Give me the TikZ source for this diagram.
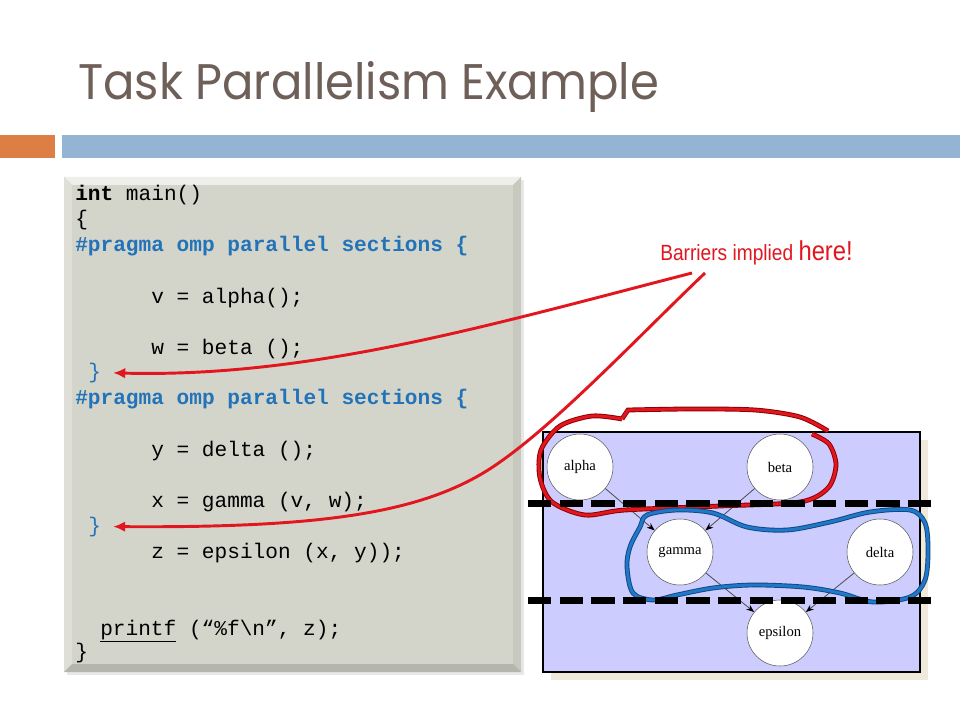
\documentclass[tikz,border=0pt]{standalone}
\usepackage{fontspec}
\usepackage{tikz}
\usetikzlibrary{arrows.meta}
\newfontfamily\codefont{Liberation Mono}
\newfontfamily\titlefont{Poppins}
\newfontfamily\notefont{Liberation Sans}
\newfontfamily\graphfont{Liberation Serif}
\definecolor{TitleBrown}{HTML}{6F5F59}
\definecolor{BarOrange}{HTML}{DD7E44}
\definecolor{BarBlue}{HTML}{93B5D3}
\definecolor{CodeFill}{HTML}{D4D5CA}
\definecolor{CodeBlue}{HTML}{2373B9}
\definecolor{PanelFill}{HTML}{CCCCFF}
\definecolor{PanelShadow}{HTML}{EFE9DC}
\definecolor{NoteRed}{HTML}{E2161F}
\definecolor{LoopBlue}{HTML}{1F78CC}

\tikzset{
  code/.style={anchor=base west,inner sep=0pt,font=\codefont\fontsize{15.85}{18}\selectfont},
  pragma/.style={code,text=CodeBlue,font=\codefont\bfseries\fontsize{15.85}{18}\selectfont},
  task/.style={circle,draw=black!65,fill=white,minimum size=49.5pt,inner sep=0pt,
    font=\graphfont\fontsize{11}{13}\selectfont},
  flow/.style={draw=black!70,line width=0.6pt,-{Stealth[length=6pt,width=4.5pt,black]}},
  pointer/.style={draw=NoteRed,line width=2.2pt,-{Latex[length=9pt,width=8pt]},shorten >=9pt},
  redloop/.style={draw=red!55!black,double=NoteRed,double distance=2.2pt,line width=0.7pt},
  blueloop/.style={draw=LoopBlue!60!black,double=LoopBlue,double distance=2.2pt,line width=0.7pt},
  barrier/.style={draw=black,line width=5.25pt,dash pattern=on 17.5pt off 6.25pt}
}

\begin{document}
\begin{tikzpicture}[x=0.75pt,y=-0.75pt]
    \useasboundingbox[fill=white] (0,0) rectangle (960,720);

    % title and bars
    \node[anchor=base west,inner sep=0pt,text=TitleBrown] (title) at (78,100)
      {\titlefont\fontsize{37.5}{40}\selectfont\scalebox{0.93}[1]{Task Parallelism Example}};
    \fill[BarOrange] (0,135) rectangle (55,158);
    \fill[BarBlue] (62,135) rectangle (960,158);

    % code box
    \fill[black!9] (67,180) rectangle (524,675);
    \fill[CodeFill] (64,177) rectangle (521,672);
    \fill[CodeFill!40!white] (64,177) -- (521,177) -- (513,185) -- (72,185) -- cycle;
    \fill[CodeFill!75!white] (64,177) -- (72,185) -- (72,664) -- (64,672) -- cycle;
    \fill[CodeFill!94!black] (521,177) -- (521,672) -- (513,664) -- (513,185) -- cycle;
    \fill[CodeFill!85!black] (64,672) -- (521,672) -- (513,664) -- (72,664) -- cycle;

    \node[code] (head) at (75,201) {\textbf{int} main()};
    \node[code] (open) at (75,226) {\{};
    \node[pragma] (pragmaA) at (75,252) {\#pragma omp parallel sections \{};
    \node[code,text=CodeBlue] (close1) at (88,378) {\}};
    \node[pragma] (pragmaB) at (75,404) {\#pragma omp parallel sections \{};
    \node[code,text=CodeBlue] (close2) at (88,532) {\}};
    \foreach \name/\y/\txt in {lv/303/{v = alpha();},lw/354/{w = beta ();},
        ly/456/{y = delta ();},lx/507/{x = gamma (v, w);},lz/558/{z = epsilon (x, y));}} {
      \node[code] (\name) at (151,\y) {\txt};
    }
    \node[code] (print) at (100,635) {\underline{printf} (“\%f\textbackslash n”, z);};
    \node[code] (end) at (75,658) {\}};

    % task graph
    \fill[PanelShadow] (551,440) rectangle (928,680);
    \filldraw[fill=PanelFill,draw=black,line width=0.8pt] (543,432) rectangle (920,672);
    \foreach \name/\x/\y in {alpha/580/467,beta/780/467,gamma/680/552,delta/880/552,epsilon/780/633} {
      \node[task] (\name) at (\x,\y) {\name};
    }
    \draw[flow] (alpha) -- (gamma);
    \draw[flow] (beta) -- (gamma);
    \draw[flow] (gamma) -- (epsilon);
    \draw[flow] (delta) -- (epsilon);

    % hand drawn groups
    \draw[redloop] plot[smooth,tension=0.5] coordinates {(828,431) (800,417) (755,410) (690,409) (628,410)}
      -- (622,419) plot[smooth,tension=0.5] coordinates {(622,419) (592,416) (560,426) (541,450)
      (540,478) (552,502) (585,515) (625,510) (720,506) (800,502) (828,488) (836,465) (829,444) (812,434)};
    \draw[blueloop] plot[smooth cycle,tension=0.55] coordinates {(647,515) (677,510) (713,513) (747,527)
      (787,530) (830,522) (870,512) (910,510) (925,523) (928,550) (925,580) (910,597) (873,602)
      (840,593) (803,587) (753,585) (713,588) (677,595) (653,600) (633,593) (627,567) (630,547) (640,527)};

    % barriers
    \draw[barrier] (528,503) -- (936,503);
    \draw[barrier] (528,600) -- (936,600);

    % note and pointers
    \node[anchor=base west,inner sep=0pt,text=NoteRed] (note) at (660,261)
      {\notefont\scalebox{0.87}[1]{\fontsize{16.5}{20}\selectfont Barriers implied \fontsize{20.5}{20}\selectfont here!}};
    \coordinate (tailA) at (692,273);
    \coordinate (tailB) at (705,273);
    \draw[pointer] (tailA) .. controls (490,325) and (310,378) .. (close1.east);
    \draw[pointer] (tailB) .. controls (640,335) and (560,420) .. (500,462)
      .. controls (430,512) and (330,528) .. (close2.east);
\end{tikzpicture}
\end{document}
